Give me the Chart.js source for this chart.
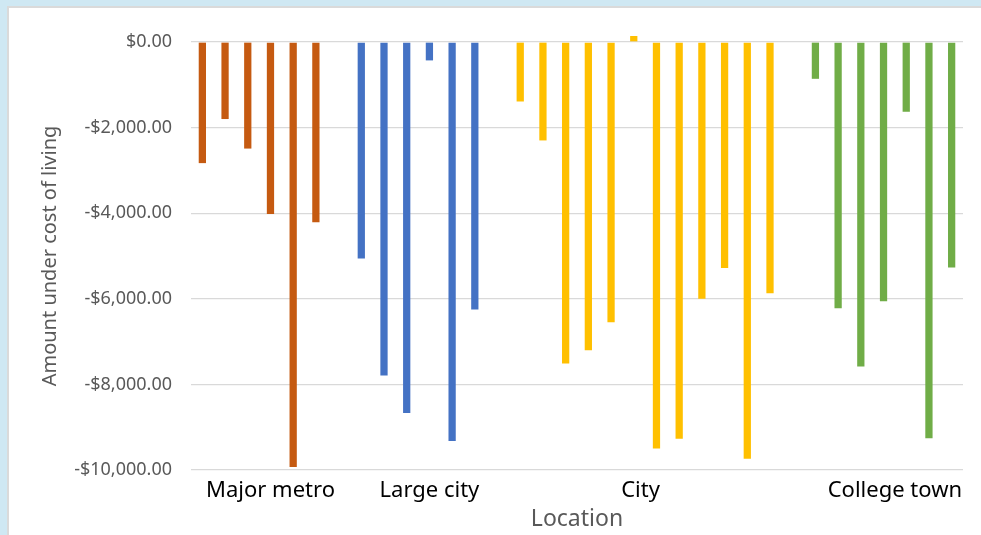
<!DOCTYPE html>
<html>
<head>
<meta charset="utf-8">
<script src="https://cdn.jsdelivr.net/npm/chart.js@4.4.1/dist/chart.umd.min.js"></script>
<style>
  html, body { margin: 0; padding: 0; overflow: hidden; }
  body { width: 981px; height: 535px; background: #cfe8f3; position: relative; }
  .frame {
    position: absolute; left: 7px; top: 6px; width: 990px; height: 545px;
    background: #fff; border: 2px solid #dadada; box-sizing: border-box;
  }
  #chart { position: absolute; left: 0; top: 0; }
</style>
</head>
<body>
<div class="frame"></div>
<canvas id="chart" width="981" height="535"></canvas>
<script>
// Valores (quanto falta para o custo de vida)
const groupNames   = ['Major metro', 'Large city', 'City', 'College town'];
const majorMetro   = [-2830, -1800, -2490, -4020, -9930, -4210];
const largeCity    = [-5060, -7790, -8670, -430, -9320, -6250];
const city         = [-1390, -2300, -7510, -7200, -6550, 140, -9500, -9270, -6000, -5280, -9740, -5870];
const collegeTown  = [-860, -6220, -7580, -6060, -1630, -9260, -5270];
const groupColors  = ['#C55A11', '#4472C4', '#FFC000', '#70AD47'];
// posicao (em slots) onde cada rotulo de grupo aparece
const groupLabelAt = [3, 10, 19.3, 30.5];
const yTicks       = [0, -2000, -4000, -6000, -8000, -10000];

const FONT = "'Noto Sans', sans-serif";

// Monta os slots: cada grupo seguido de um slot vazio
const groups = [majorMetro, largeCity, city, collegeTown];
const slotCount = groups.reduce((n, g) => n + g.length, 0) + groups.length - 1;
const slotLabels = Array.from({ length: slotCount }, (_, i) => 's' + i);

let start = 0;
const datasets = groups.map((g, gi) => {
  const data = new Array(slotCount).fill(null);
  g.forEach((v, i) => { data[start + i] = v; });
  start += g.length + 1;
  return {
    label: groupNames[gi],
    data,
    backgroundColor: groupColors[gi],
    borderWidth: 0,
    barPercentage: 0.32,
    categoryPercentage: 1,
    grouped: false,
    clip: false
  };
});

const fmtMoney = v => {
  const s = '$' + Math.abs(v).toLocaleString('en-US', { minimumFractionDigits: 2, maximumFractionDigits: 2 });
  return v < 0 ? '-' + s : s;
};

new Chart(document.getElementById('chart'), {
  type: 'bar',
  data: { labels: slotLabels, datasets },
  options: {
    responsive: false,
    animation: false,
    layout: { padding: { top: 42, right: 18, left: 0, bottom: 0 } },
    plugins: { legend: { display: false }, tooltip: { enabled: false } },
    scales: {
      x: { display: false },
      x2: {
        type: 'linear',
        position: 'bottom',
        offset: false,
        min: -0.5,
        max: slotCount - 0.5,
        grid: { display: false },
        border: { display: false },
        afterBuildTicks: axis => { axis.ticks = groupLabelAt.map(v => ({ value: v })); },
        afterFit: axis => { axis.height = 65; },
        ticks: {
          autoSkip: false,
          maxRotation: 0,
          padding: 0,
          color: '#000',
          font: { family: FONT, size: 22 },
          callback: v => groupNames[groupLabelAt.indexOf(v)] || ''
        },
        title: {
          display: true,
          text: 'Location',
          color: '#595959',
          padding: { top: 0, bottom: 2 },
          font: { family: FONT, size: 23 }
        }
      },
      y: {
        min: -10000,
        max: 0,
        afterBuildTicks: axis => { axis.ticks = yTicks.map(v => ({ value: v })); },
        afterFit: axis => { axis.width = 191; },
        grid: { color: '#d9d9d9', lineWidth: 1.3, drawTicks: false },
        border: { display: false },
        ticks: {
          padding: 19,
          color: '#595959',
          font: { family: FONT, size: 18 },
          callback: v => fmtMoney(v)
        },
        title: {
          display: true,
          text: 'Amount under cost of living',
          color: '#595959',
          padding: { top: 38, bottom: 0 },
          font: { family: FONT, size: 20 }
        }
      }
    }
  }
});
</script>
</body>
</html>
